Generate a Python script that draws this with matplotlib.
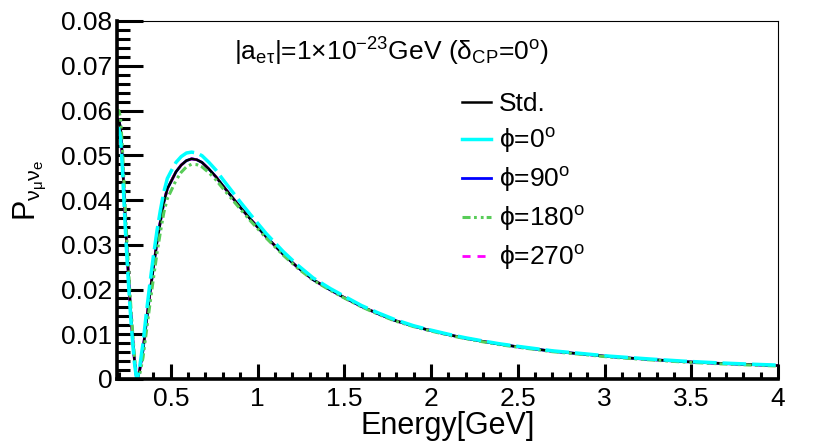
import matplotlib
matplotlib.use("Agg")
import matplotlib.pyplot as plt
from matplotlib.lines import Line2D
from matplotlib.ticker import MultipleLocator, FormatStrFormatter

plt.rcParams['font.family'] = ['Liberation Sans', 'DejaVu Sans']
plt.rcParams['mathtext.fontset'] = 'custom'
plt.rcParams['mathtext.rm'] = 'Liberation Sans'
plt.rcParams['mathtext.it'] = 'Liberation Sans'
plt.rcParams['mathtext.default'] = 'regular'
plt.rcParams['lines.scale_dashes'] = False

# energy grid [GeV] and P(numu -> nue)
energy = [0.19, 0.20, 0.21, 0.22, 0.23, 0.24, 0.25, 0.26, 0.27, 0.28,
          0.29, 0.30, 0.305, 0.31, 0.32, 0.34, 0.36, 0.38, 0.40, 0.42,
          0.44, 0.46, 0.48, 0.50, 0.53, 0.56, 0.59, 0.62, 0.65, 0.68,
          0.72, 0.76, 0.80, 0.85, 0.90, 0.96, 1.05, 1.15, 1.23, 1.32,
          1.42, 1.50, 1.60, 1.70, 1.79, 1.90, 1.98, 2.10, 2.20, 2.30,
          2.39, 2.50, 2.60, 2.70, 2.84, 3.03, 3.25, 3.45, 3.66, 3.85, 4.00]

p_std = [0.0568, 0.0580, 0.0562, 0.0500, 0.0420, 0.0340, 0.0270, 0.0205, 0.0145, 0.0093,
         0.0045, 0.0010, 0.0002, 0.0004, 0.0018, 0.0065, 0.0130, 0.0192, 0.0250, 0.0305,
         0.0352, 0.0395, 0.0425, 0.0440, 0.0463, 0.0478, 0.0488, 0.0492, 0.0490, 0.0484,
         0.0469, 0.0452, 0.0432, 0.0408, 0.0384, 0.0357, 0.0318, 0.0278, 0.0250, 0.0222,
         0.0199, 0.0182, 0.0162, 0.0145, 0.0131, 0.0118, 0.0110, 0.0099, 0.0091, 0.0084,
         0.0078, 0.0072, 0.0067, 0.0062, 0.0057, 0.0050, 0.0044, 0.0039, 0.0035, 0.0032, 0.0030]

p_phi0 = [0.0552, 0.0560, 0.0540, 0.0478, 0.0398, 0.0320, 0.0252, 0.0190, 0.0132, 0.0082,
          0.0038, 0.0008, 0.0002, 0.0006, 0.0025, 0.0080, 0.0150, 0.0215, 0.0275, 0.0330,
          0.0377, 0.0418, 0.0448, 0.0463, 0.0484, 0.0497, 0.0505, 0.0507, 0.0505, 0.0499,
          0.0484, 0.0467, 0.0446, 0.0421, 0.0396, 0.0367, 0.0325, 0.0284, 0.0255, 0.0226,
          0.0202, 0.0185, 0.0164, 0.0147, 0.0133, 0.0119, 0.0111, 0.0100, 0.0092, 0.0085,
          0.0079, 0.0073, 0.0068, 0.0063, 0.0058, 0.0051, 0.0045, 0.0040, 0.0036, 0.0033, 0.0031]

p_phi180 = [0.0595, 0.0600, 0.0585, 0.0525, 0.0445, 0.0362, 0.0290, 0.0222, 0.0160, 0.0106,
            0.0055, 0.0015, 0.0004, 0.0001, 0.0008, 0.0048, 0.0108, 0.0168, 0.0225, 0.0280,
            0.0328, 0.0372, 0.0403, 0.0419, 0.0444, 0.0462, 0.0474, 0.0480, 0.0479, 0.0474,
            0.0461, 0.0445, 0.0426, 0.0403, 0.0380, 0.0353, 0.0315, 0.0276, 0.0248, 0.0221,
            0.0198, 0.0181, 0.0161, 0.0144, 0.0130, 0.0117, 0.0109, 0.0098, 0.0090, 0.0083,
            0.0077, 0.0071, 0.0066, 0.0061, 0.0056, 0.0049, 0.0043, 0.0038, 0.0034, 0.0031, 0.0029]

# phi=90 and phi=270 fall on top of the standard curve in the figure
p_phi90 = list(p_std)
p_phi270 = list(p_std)

xmin, xmax = 0.19, 4.0
ymin, ymax = 0.0, 0.08
x_major = 0.5
y_major = 0.01

green = '#58cc58'

fig = plt.figure(figsize=(8.3, 4.47), dpi=100)
ax = fig.add_axes([117 / 830, 1 - 379 / 447, (778 - 117) / 830, (379 - 21) / 447])

l90, = ax.plot(energy, p_phi90, color='#0000ff', lw=2.0)
l270, = ax.plot(energy, p_phi270, color='#ff00ff', lw=2.0, ls=(0, (5.8, 5.0)))
lstd, = ax.plot(energy, p_std, color='black', lw=1.8)
l180, = ax.plot(energy, p_phi180, color=green, lw=2.2,
                ls=(0, (5.8, 2.5, 2.0, 2.9, 2.0, 2.2)))
l0, = ax.plot(energy, p_phi0, color='#00ffff', lw=2.5, ls=(0, (17, 4.3)))

ax.set_xlim(xmin, xmax)
ax.set_ylim(ymin, ymax)

ax.xaxis.set_major_locator(MultipleLocator(x_major))
ax.xaxis.set_minor_locator(MultipleLocator(0.1))
ax.yaxis.set_major_locator(MultipleLocator(y_major))
ax.yaxis.set_minor_locator(MultipleLocator(0.002))
ax.xaxis.set_major_formatter(FormatStrFormatter('%g'))
ax.yaxis.set_major_formatter(FormatStrFormatter('%g'))

ax.tick_params(axis='both', which='both', direction='in', width=2.2, colors='black',
               top=False, right=False, labelsize=19)
ax.tick_params(axis='x', which='major', length=10.5, pad=6)
ax.tick_params(axis='x', which='minor', length=5)
ax.tick_params(axis='y', which='major', length=18.5, pad=3.5)
ax.tick_params(axis='y', which='minor', length=9.5)

for side in ['left', 'bottom']:
    ax.spines[side].set_linewidth(2.6)
for side in ['top', 'right']:
    ax.spines[side].set_linewidth(0.8)

ax.set_xlabel('Energy[GeV]', fontsize=22, labelpad=0)
fig.text(30 / 830, 1 - 190 / 447, r'P$_{ν_{μ}ν_{e}}$', fontsize=22,
         rotation=90, ha='center', va='center')

fig.text(391 / 830, 1 - 61 / 447,
         r'|a$_{eτ}$|=1×10$^{-23}$GeV (δ$_{CP}$=0$^{o}$)',
         fontsize=19, ha='center', va='baseline')

handles = [lstd, Line2D([], [], color='#00ffff', lw=2.5), l90, l180, l270]
labels = ['Std.', 'ϕ=0$^{o}$', 'ϕ=90$^{o}$', 'ϕ=180$^{o}$', 'ϕ=270$^{o}$']
ax.legend(handles, labels, loc='upper left', bbox_to_anchor=(462 / 830, 1 - 92 / 447),
          bbox_transform=fig.transFigure, frameon=False, fontsize=19,
          handlelength=1.1, handletextpad=0.3, labelspacing=0.38, borderpad=0,
          borderaxespad=0)

fig.savefig('out.png', dpi=100)
